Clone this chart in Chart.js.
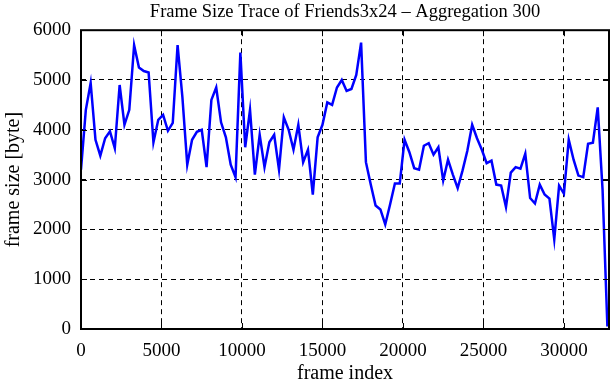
<!DOCTYPE html>
<html>
<head>
<meta charset="utf-8">
<script src="https://cdn.jsdelivr.net/npm/chart.js@4.4.1/dist/chart.umd.min.js"></script>
<style>
  html, body { margin: 0; padding: 0; background: #fff; }
  #wrap { width: 611px; height: 380px; }
</style>
</head>
<body>
<div id="wrap"><canvas id="chart" width="611" height="380"></canvas></div>
<script>
// frame index (start of each 300-frame window)
const frames = [
  0, 300, 600, 900, 1200, 1500, 1800, 2100, 2400, 2700,
  3000, 3300, 3600, 3900, 4200, 4500, 4800, 5100, 5400, 5700,
  6000, 6300, 6600, 6900, 7200, 7500, 7800, 8100, 8400, 8700,
  9000, 9300, 9600, 9900, 10200, 10500, 10800, 11100, 11400, 11700,
  12000, 12300, 12600, 12900, 13200, 13500, 13800, 14100, 14400, 14700,
  15000, 15300, 15600, 15900, 16200, 16500, 16800, 17100, 17400, 17700,
  18000, 18300, 18600, 18900, 19200, 19500, 19800, 20100, 20400, 20700,
  21000, 21300, 21600, 21900, 22200, 22500, 22800, 23100, 23400, 23700,
  24000, 24300, 24600, 24900, 25200, 25500, 25800, 26100, 26400, 26700,
  27000, 27300, 27600, 27900, 28200, 28500, 28800, 29100, 29400, 29700,
  30000, 30300, 30600, 30900, 31200, 31500, 31800, 32100, 32400, 32700
]

// frame size in bytes
const frameSize = [
  3200, 4400, 4940, 3800, 3480, 3830, 3970, 3630, 4900, 4100,
  4400, 5700, 5250, 5180, 5150, 3750, 4200, 4300, 3980, 4140,
  5700, 4650, 3300, 3800, 3960, 4000, 3250, 4600, 4850, 4150,
  3850, 3300, 3050, 5550, 3650, 4400, 3100, 3900, 3250, 3750,
  3900, 3200, 4250, 4000, 3600, 4100, 3350, 3600, 2700, 3850,
  4100, 4550, 4500, 4850, 5000, 4780, 4820, 5100, 5750, 3350,
  2900, 2480, 2400, 2100, 2500, 2920, 2920, 3800, 3550, 3230,
  3200, 3680, 3730, 3500, 3650, 2980, 3400, 3100, 2830, 3180,
  3580, 4100, 3830, 3600, 3330, 3380, 2900, 2880, 2450, 3140,
  3250, 3220, 3520, 2630, 2520, 2900, 2700, 2620, 1800, 2880,
  2720, 3800, 3400, 3080, 3050, 3720, 3740, 4450, 2800, 50
]

const xTicks = [0, 5000, 10000, 15000, 20000, 25000, 30000]
const yTicks = [0, 1000, 2000, 3000, 4000, 5000, 6000]

const serif = '"Liberation Serif", "DejaVu Serif", serif'

// gnuplot style frame: box + short inward ticks on all four sides
const frameBox = {
  id: 'frameBox',
  afterDraw(chart) {
    const { ctx, chartArea: a, scales } = chart
    ctx.save()
    ctx.strokeStyle = '#000'
    ctx.lineWidth = 1
    const len = 6
    ctx.beginPath()
    xTicks.forEach(v => {
      const x = Math.round(scales.x.getPixelForValue(v)) + 0.5
      ctx.moveTo(x, a.bottom); ctx.lineTo(x, a.bottom - len)
      ctx.moveTo(x, a.top); ctx.lineTo(x, a.top + len)
    })
    yTicks.forEach(v => {
      const y = Math.round(scales.y.getPixelForValue(v)) + 0.5
      ctx.moveTo(a.left, y); ctx.lineTo(a.left + len, y)
      ctx.moveTo(a.right, y); ctx.lineTo(a.right - len, y)
    })
    ctx.stroke()
    ctx.lineWidth = 2
    ctx.strokeRect(a.left, a.top, a.right - a.left, a.bottom - a.top)
    ctx.restore()
  }
}

const ctx = document.getElementById('chart').getContext('2d')

new Chart(ctx, {
  type: 'line',
  data: {
    datasets: [{
      data: frames.map((f, i) => ({ x: f, y: frameSize[i] })),
      borderColor: '#0000ff',
      borderWidth: 2.5,
      pointRadius: 0,
      tension: 0,
      fill: false
    }]
  },
  options: {
    responsive: false,
    animation: false,
    layout: { padding: { left: 0, right: 2, top: 0, bottom: 0 } },
    plugins: {
      legend: { display: false },
      tooltip: { enabled: false },
      title: {
        display: true,
        fullSize: false,
        text: 'Frame Size Trace of Friends3x24 \u2013 Aggregation 300',
        color: '#000',
        font: { family: serif, size: 18.5, weight: 'normal' },
        padding: { top: 1, bottom: 7 }
      }
    },
    scales: {
      x: {
        type: 'linear',
        min: 0,
        max: 32800,
        afterBuildTicks(scale) { scale.ticks = xTicks.map(v => ({ value: v })) },
        afterFit(scale) { scale.height = 51 },
        ticks: {
          color: '#000',
          font: { family: serif, size: 19 },
          padding: 11,
          maxRotation: 0,
          callback: v => String(v)
        },
        grid: { color: '#000', lineWidth: 1, drawTicks: false },
        border: { display: false, dash: [5, 4] },
        title: {
          display: true,
          text: 'frame index',
          color: '#000',
          font: { family: serif, size: 20, lineHeight: 1 },
          padding: { top: 0, bottom: -4 }
        }
      },
      y: {
        min: 0,
        max: 6000,
        afterBuildTicks(scale) { scale.ticks = yTicks.map(v => ({ value: v })) },
        afterFit(scale) { scale.width = 81 },
        ticks: {
          color: '#000',
          font: { family: serif, size: 19 },
          padding: 10,
          callback: v => String(v)
        },
        grid: { color: '#000', lineWidth: 1, drawTicks: false },
        border: { display: false, dash: [5, 4] },
        title: {
          display: true,
          text: 'frame size [byte]',
          color: '#000',
          font: { family: serif, size: 20 },
          padding: { top: 2, bottom: 0 }
        }
      }
    }
  },
  plugins: [frameBox]
})
</script>
</body>
</html>
